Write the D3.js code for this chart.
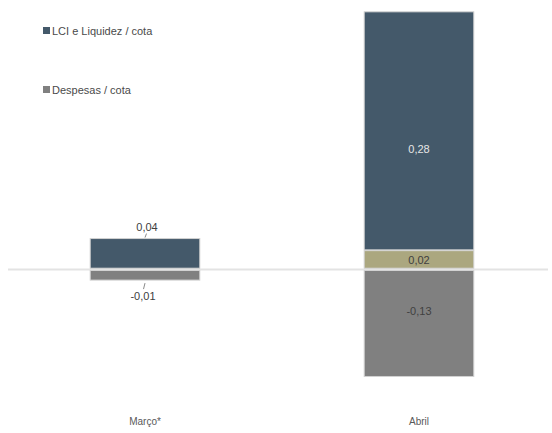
<!DOCTYPE html>
<html><head><meta charset="utf-8">
<script src="https://cdn.jsdelivr.net/npm/d3@7"></script>
<style>body{margin:0;background:#fff}svg{display:block}text{font-family:"Liberation Sans",Arial,sans-serif}</style>
</head><body><svg id="c" width="552" height="433"></svg>
<script>
const categories = ["Março*", "Abril"];
const seriesNames = ["Outros / cota", "LCI e Liquidez / cota", "Despesas / cota"];
const outros = [0, 0.0215];
const lci = [0.0357, 0.28];
const despesas = [-0.013, -0.126];
const labelsOutros = ["", "0,02"];
const labelsLci = ["0,04", "0,28"];
const labelsDespesas = ["-0,01", "-0,13"];
const colors = ["#aba77f", "#44596a", "#808080"];
const legendItems = ["LCI e Liquidez / cota", "Despesas / cota"];
const legendColors = ["#44596a", "#808080"];

const svg = d3.select("#c");
const x = d3.scaleBand().domain(categories).range([8, 556]).paddingInner(0.6).paddingOuter(0.3);
const y = d3.scaleLinear().domain([-0.15, 0.32]).range([269 + 0.15 * 853, 269 - 0.32 * 853]);

// zero line
svg.append("line").attr("x1", 8).attr("x2", 548).attr("y1", y(0) + 0.5).attr("y2", y(0) + 0.5)
  .attr("stroke", "#e3e3e3").attr("stroke-width", 2);

const rows = categories.map((c, i) => ({c, o: outros[i], l: lci[i], d: despesas[i], i}));
const segs = [];
rows.forEach(r => {
  segs.push({c: r.c, y0: 0, y1: r.o, col: colors[0], lab: labelsOutros[r.i], s: 0, v: r.o});
  segs.push({c: r.c, y0: r.o, y1: r.o + r.l, col: colors[1], lab: labelsLci[r.i], s: 1, v: r.l});
  segs.push({c: r.c, y0: 0, y1: r.d, col: colors[2], lab: labelsDespesas[r.i], s: 2, v: r.d});
});
const g = svg.append("g");
segs.filter(s => s.v !== 0).forEach(s => {
  const top = y(Math.max(s.y0, s.y1)), bot = y(Math.min(s.y0, s.y1));
  const neg = s.s === 2;
  g.append("rect").attr("x", x(s.c)).attr("width", x.bandwidth())
    .attr("y", neg ? top + 1.5 : top).attr("height", neg ? bot - top - 1.5 : bot - top - 0.8)
    .attr("fill", s.col).attr("stroke", "#d2d2d2").attr("stroke-width", 1);
});

// labels
segs.filter(s => s.v !== 0 && s.lab).forEach(s => {
  const top = y(Math.max(s.y0, s.y1)), bot = y(Math.min(s.y0, s.y1));
  const cx = x(s.c) + x.bandwidth() / 2;
  const h = bot - top;
  if (h > 60 || s.s === 0) {
    const shift = s.s === 1 ? 18 : (s.s === 2 ? -12 : 0);
    g.append("text").attr("x", cx).attr("y", (top + bot) / 2 + 4 + shift).attr("text-anchor", "middle")
      .attr("font-size", 11).attr("fill", s.s === 1 ? "#e6e6e6" : "#404040").text(s.lab);
  } else if (s.s === 1) {
    g.append("line").attr("x1", cx).attr("y1", top - 1).attr("x2", cx + 1.5).attr("y2", top - 5).attr("stroke", "#8a8a8a");
    g.append("text").attr("x", cx + 2).attr("y", top - 8).attr("text-anchor", "middle")
      .attr("font-size", 11).attr("fill", "#404040").text(s.lab);
  } else {
    g.append("line").attr("x1", cx - 1.5).attr("y1", bot + 9).attr("x2", cx).attr("y2", bot + 3).attr("stroke", "#8a8a8a");
    g.append("text").attr("x", cx - 2).attr("y", bot + 20).attr("text-anchor", "middle")
      .attr("font-size", 11).attr("fill", "#404040").text(s.lab);
  }
});

// x axis labels
const xa = svg.append("g").attr("transform", "translate(0,425)")
  .call(d3.axisBottom(x).tickSize(0).tickPadding(0));
xa.select(".domain").remove();
xa.selectAll("text").attr("font-size", 10).attr("fill", "#595959").attr("dy", 0);

// legend
legendItems.forEach((t, i) => {
  const ly = 31 + i * 59;
  svg.append("rect").attr("x", 43).attr("y", ly - 4).attr("width", 7).attr("height", 7).attr("fill", legendColors[i]);
  svg.append("text").attr("x", 52).attr("y", ly + 4).attr("font-size", 11).attr("fill", "#4a4a4a").text(t);
});
</script></body></html>
